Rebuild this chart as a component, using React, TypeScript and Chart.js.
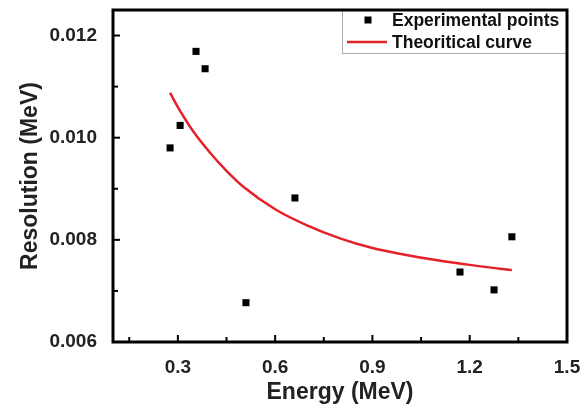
import React, { useEffect, useRef } from "react";
import { Chart, registerables } from "chart.js";

Chart.register(...registerables);

const expEnergy = [0.276, 0.307, 0.356, 0.384, 0.51, 0.661, 1.17, 1.275, 1.33];
const expResolution = [0.0098, 0.01024, 0.01169, 0.01135, 0.00677, 0.00882, 0.00737, 0.00702, 0.00806];

const curveEnergy = [0.276, 0.3, 0.35, 0.4, 0.45, 0.5, 0.6, 0.7, 0.8, 0.9, 1.0, 1.1, 1.2, 1.3, 1.33];
const curveResolution = [0.01088, 0.0106, 0.0101, 0.0097, 0.00935, 0.00905, 0.0086, 0.00828, 0.00803, 0.00784, 0.00771, 0.0076, 0.00751, 0.00743, 0.00741];

const xTickValues = [0.15, 0.3, 0.45, 0.6, 0.75, 0.9, 1.05, 1.2, 1.35, 1.5];
const xTickLabels = ["", "0.3", "", "0.6", "", "0.9", "", "1.2", "", "1.5"];
const yTickValues = [0.006, 0.007, 0.008, 0.009, 0.01, 0.011, 0.012];
const yTickLabels = ["0.006", "", "0.008", "", "0.010", "", "0.012"];

const seriesLabels = ["Experimental points", "Theoritical curve"];
const xTitle = "Energy (MeV)";
const yTitle = "Resolution (MeV)";

const FONT = '"Liberation Sans", Arial, sans-serif';
const RED = "rgb(228,32,40)";

const framePlugin = {
  id: "framePlugin",
  afterDraw(chart: any) {
    const { ctx, chartArea } = chart;
    const xs = chart.scales.x;
    const ys = chart.scales.y;
    ctx.save();
    // legend
    const lx = 342, ly = chartArea.top, lw = chartArea.right - 342, lh = 43;
    ctx.fillStyle = "#fff";
    ctx.fillRect(lx, ly, lw, lh);
    ctx.strokeStyle = "#aaa";
    ctx.lineWidth = 1;
    ctx.strokeRect(lx + 0.5, ly + 0.5, lw, lh);
    ctx.fillStyle = "#000";
    ctx.fillRect(368 - 3.5, ly + 10 - 3.5, 7, 7);
    ctx.strokeStyle = RED;
    ctx.lineWidth = 2.5;
    ctx.beginPath();
    ctx.moveTo(347, ly + 32);
    ctx.lineTo(387, ly + 32);
    ctx.stroke();
    ctx.fillStyle = "#111";
    ctx.font = "bold 17.5px " + FONT;
    ctx.textBaseline = "middle";
    ctx.textAlign = "left";
    ctx.fillText(seriesLabels[0], 392, ly + 11);
    ctx.fillText(seriesLabels[1], 392, ly + 33);

    // inward ticks
    ctx.strokeStyle = "#000";
    ctx.lineWidth = 2;
    xTickValues.forEach((v, i) => {
      const px = xs.getPixelForValue(v);
      const len = xTickLabels[i] ? 7 : 5;
      ctx.beginPath();
      ctx.moveTo(px, chartArea.bottom);
      ctx.lineTo(px, chartArea.bottom - len);
      ctx.stroke();
    });
    yTickValues.forEach((v, i) => {
      const py = ys.getPixelForValue(v);
      const len = yTickLabels[i] ? 7 : 5;
      ctx.beginPath();
      ctx.moveTo(chartArea.left, py);
      ctx.lineTo(chartArea.left + len, py);
      ctx.stroke();
    });

    // frame
    ctx.lineWidth = 3;
    ctx.strokeStyle = "#000";
    ctx.strokeRect(chartArea.left, chartArea.top, chartArea.right - chartArea.left, chartArea.bottom - chartArea.top);
    ctx.restore();
  },
};

export default function App() {
  const ref = useRef<HTMLCanvasElement | null>(null);
  useEffect(() => {
    if (!ref.current) return;
    const chart = new Chart(ref.current, {
      type: "scatter",
      data: {
        datasets: [
          {
            label: seriesLabels[0],
            data: expEnergy.map((x, i) => ({ x, y: expResolution[i] })),
            pointStyle: "rect",
            pointRadius: 5,
            pointBackgroundColor: "#000",
            pointBorderColor: "#000",
            pointBorderWidth: 0,
            showLine: false,
          },
          {
            label: seriesLabels[1],
            data: curveEnergy.map((x, i) => ({ x, y: curveResolution[i] })),
            showLine: true,
            borderColor: RED,
            borderWidth: 2.5,
            pointRadius: 0,
            cubicInterpolationMode: "monotone",
            fill: false,
          },
        ],
      },
      options: {
        animation: false,
        responsive: false,
        events: [],
        layout: { padding: { left: 0, top: 10, right: 21, bottom: 0 } },
        plugins: { legend: { display: false }, tooltip: { enabled: false } },
        scales: {
          x: {
            type: "linear",
            min: 0.1,
            max: 1.5,
            grid: { display: false },
            border: { display: false },
            afterBuildTicks: (s: any) => {
              s.ticks = xTickValues.map((v) => ({ value: v }));
            },
            afterFit: (s: any) => {
              s.height = 68;
              s.paddingLeft = 0;
              s.paddingRight = 0;
            },
            ticks: {
              autoSkip: false,
              maxRotation: 0,
              padding: 6,
              color: "#222",
              font: { family: FONT, size: 19, weight: "bold" },
              callback: (_v: any, i: number) => xTickLabels[i],
            },
            title: {
              display: true,
              text: xTitle,
              color: "#222",
              font: { family: FONT, size: 23, weight: "bold" },
              padding: { top: 0, bottom: 4 },
            },
          },
          y: {
            type: "linear",
            min: 0.006,
            max: 0.0125,
            grid: { display: false },
            border: { display: false },
            afterBuildTicks: (s: any) => {
              s.ticks = yTickValues.map((v) => ({ value: v }));
            },
            afterFit: (s: any) => {
              s.width = 113;
              s.paddingTop = 0;
              s.paddingBottom = 0;
            },
            ticks: {
              autoSkip: false,
              padding: 8,
              color: "#222",
              font: { family: FONT, size: 19, weight: "bold" },
              callback: (_v: any, i: number) => yTickLabels[i],
            },
            title: {
              display: true,
              text: yTitle,
              color: "#222",
              font: { family: FONT, size: 23, weight: "bold" },
              padding: { top: 17, bottom: 0 },
            },
          },
        },
      },
      plugins: [framePlugin],
    } as any);
    return () => chart.destroy();
  }, []);
  return (
    <div style={{ position: "absolute", left: 0, top: 0, width: 588, height: 410, background: "#fff" }}>
      <canvas ref={ref} width={588} height={410} style={{ width: 588, height: 410, display: "block" }} />
    </div>
  );
}
